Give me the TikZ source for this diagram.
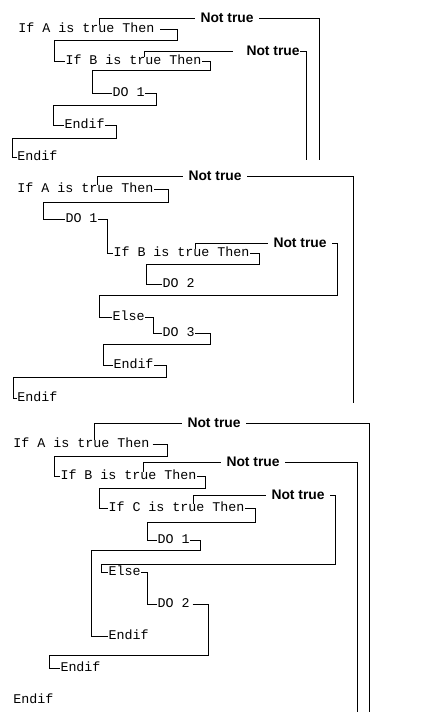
\documentclass[tikz,border=0pt]{standalone}
\usepackage{fontspec}
\newfontfamily\codefont{Liberation Mono}
\newfontfamily\labelfont{Liberation Sans}
\begin{document}
\begin{tikzpicture}[x=0.75pt,y=-0.75pt,line width=0.75pt,
    code/.style={anchor=west,inner sep=0pt,text height=5.8pt,text depth=0pt,font=\codefont\fontsize{10}{12}\selectfont},
    nt/.style={anchor=west,inner xsep=3.75pt,inner ysep=0pt,text height=7.4pt,text depth=0pt,font=\labelfont\bfseries\fontsize{10.4}{12}\selectfont}]
    \useasboundingbox (0,0) rectangle (447,719);

    % first nesting
    \node[code] (ifa1) at (18,29) {If A is true Then};
    \node[code] (ifb1) at (65,61) {If B is true Then};
    \node[code] (do11) at (112,93) {DO 1};
    \node[code] (endb1) at (64,125) {Endif};
    \node[code] (enda1) at (17,157) {Endif};
    \node[nt] (nta1) at (195,18) {Not true};
    \node[nt] (ntb1) at (241,51) {Not true};
    \coordinate (outa1) at (319,160);
    \coordinate (outb1) at (306,160);

    \draw ([shift={(81,0)}]ifa1.north west) |- (nta1.west);
    \draw (nta1.east) -| (outa1);
    \draw ([xshift=4pt]ifa1.east) -| ++(17,11) -| ([shift={(-11,0)}]ifb1.west) -- (ifb1.west);
    \draw ([shift={(79,0)}]ifb1.north west) |- ([xshift=-6pt]ntb1.west);
    \draw ([xshift=-3.75pt]ntb1.east) -| (outb1);
    \draw (ifb1.east) -| ++(8,9) -| ([shift={(-20,0)}]do11.west) -- (do11.west);
    \draw (do11.east) -| ++(11,12) -| ([shift={(-11,0)}]endb1.west) -- (endb1.west);
    \draw (endb1.east) -| ++(11,13) -| ([shift={(-5,0)}]enda1.west) -- (enda1.west);

    % second nesting
    \node[code] (ifa2) at (17,189) {If A is true Then};
    \node[code] (do12) at (65,219) {DO 1};
    \node[code] (ifb2) at (113,253) {If B is true Then};
    \node[code] (do22) at (162,284) {DO 2};
    \node[code] (else2) at (112,317) {Else};
    \node[code] (do32) at (162,333) {DO 3};
    \node[code] (endb2) at (113,365) {Endif};
    \node[code] (enda2) at (17,398) {Endif};
    \node[nt] (nta2) at (183,176) {Not true};
    \node[nt] (ntb2) at (268,243) {Not true};
    \coordinate (outa2) at (353,403);

    \draw ([shift={(80,0)}]ifa2.north west) |- (nta2.west);
    \draw (nta2.east) -| (outa2);
    \draw (ifa2.east) -| ++(14,13) -| ([shift={(-22,0)}]do12.west) -- (do12.west);
    \draw (do12.east) -| ([shift={(-6,0)}]ifb2.west) -- (ifb2.west);
    \draw ([shift={(82,0)}]ifb2.north west) |- (ntb2.west);
    \draw (ntb2.east) -| ++(5,52) -| ([shift={(-13,0)}]else2.west) -- (else2.west);
    \draw (ifb2.east) -| ++(9,11) -| ([shift={(-16,0)}]do22.west) -- (do22.west);
    \draw (else2.east) -| ([shift={(-9,0)}]do32.west) -- (do32.west);
    \draw (do32.east) -| ++(15,11) -| ([shift={(-10,0)}]endb2.west) -- (endb2.west);
    \draw (endb2.east) -| ++(12,12) -| ([shift={(-4,0)}]enda2.west) -- (enda2.west);

    % third nesting
    \node[code] (ifa3) at (13,444) {If A is true Then};
    \node[code] (ifb3) at (60,476) {If B is true Then};
    \node[code] (ifc3) at (108,508) {If C is true Then};
    \node[code] (do13) at (157,540) {DO 1};
    \node[code] (else3) at (108,572) {Else};
    \node[code] (do23) at (157,604) {DO 2};
    \node[code] (endc3) at (108,636) {Endif};
    \node[code] (endb3) at (60,668) {Endif};
    \node[code] (enda3) at (13,700) {Endif};
    \node[nt] (nta3) at (182,423) {Not true};
    \node[nt] (ntb3) at (221,462) {Not true};
    \node[nt] (ntc3) at (266,495) {Not true};
    \coordinate (outa3) at (369,712);
    \coordinate (outb3) at (357,712);

    \draw ([shift={(81,0)}]ifa3.north west) |- (nta3.west);
    \draw (nta3.east) -| (outa3);
    \draw ([xshift=2pt]ifa3.east) -| ++(15,12) -| ([shift={(-6,0)}]ifb3.west) -- (ifb3.west);
    \draw ([shift={(83,0)}]ifb3.north west) |- (ntb3.west);
    \draw (ntb3.east) -| (outb3);
    \draw (ifb3.east) -| ++(8,12) -| ([shift={(-9,0)}]ifc3.west) -- (ifc3.west);
    \draw ([shift={(85,0)}]ifc3.north west) |- (ntc3.west);
    \draw (ntc3.east) -| ++(5,69) -| ([shift={(-7,0)}]else3.west) -- (else3.west);
    \draw (ifc3.east) -| ++(10,14) -| ([shift={(-10,0)}]do13.west) -- (do13.west);
    \draw (do13.east) -| ++(10,10) -| ([shift={(-17,0)}]endc3.west) -- (endc3.west);
    \draw (else3.east) -| ([shift={(-10,0)}]do23.west) -- (do23.west);
    \draw ([xshift=2pt]do23.east) -| ++(16,51) -| ([shift={(-11,0)}]endb3.west) -- (endb3.west);
\end{tikzpicture}
\end{document}
